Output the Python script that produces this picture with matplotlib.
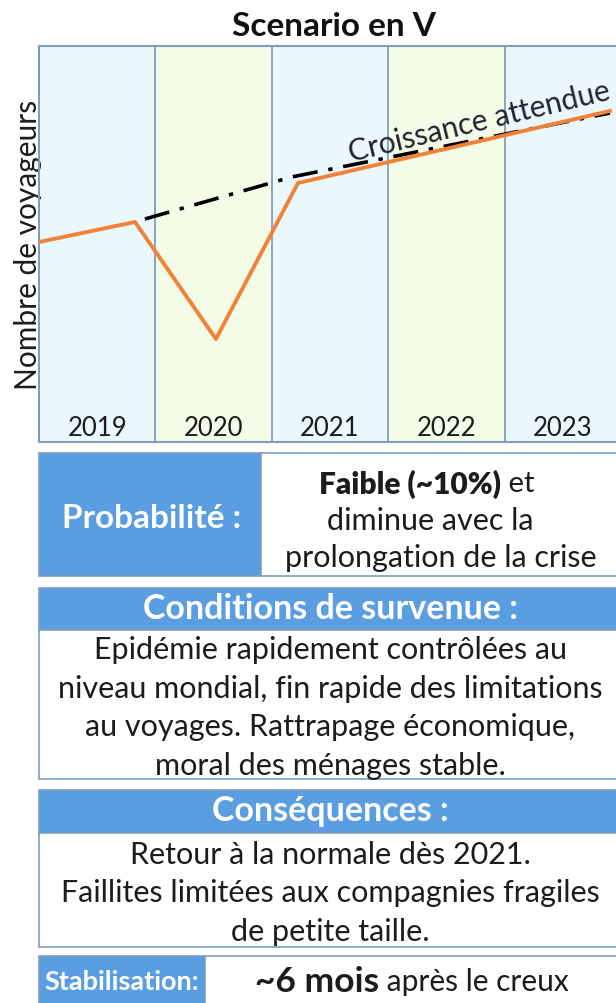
import matplotlib
matplotlib.use("Agg")
import matplotlib.pyplot as plt
from matplotlib.patches import Rectangle

plt.rcParams['font.family'] = ['Lato', 'DejaVu Sans']

# data
years = ['2019', '2020', '2021', '2022', '2023']
col_colors = ['#eaf8fd', '#f4fbe6', '#eaf8fd', '#f4fbe6', '#eaf8fd']
scenario_x = [0.0, 0.825, 1.52, 2.225, 4.905]
scenario_y = [200, 220, 103, 259, 331]
trend_x = [0.91, 2.17, 4.905]
trend_y = [223, 265, 329]

title = "Scenario en V"
ylabel = "Nombre de voyageurs"
trend_label = "Croissance attendue"
cond_lines = ["Epidémie rapidement contrôlées au",
              "niveau mondial, fin rapide des limitations",
              "au voyages. Rattrapage économique,",
              "moral des ménages stable."]
cons_lines = ["Retour à la normale dès 2021.",
              "Faillites limitées aux compagnies fragiles",
              "de petite taille."]

BLUE = '#5a9de0'
EDGE = '#7f9dbd'
TXT = '#1c1c1c'
W, H = 616, 1004

fig = plt.figure(figsize=(W / 100, H / 100), dpi=100)
fig.patch.set_facecolor('white')

# overlay in pixel coordinates for the boxes below the chart
ov = fig.add_axes([0, 0, 1, 1])
ov.set_xlim(0, W)
ov.set_ylim(H, 0)
ov.axis('off')

# chart
ax = fig.add_axes([39 / W, 1 - 443 / H, (W - 39) / W, 396 / H])
ax.set_xlim(0, (W - 39) / 116.4)
ax.set_ylim(0, 396)
for i, (yr, c) in enumerate(zip(years, col_colors)):
    ax.axvspan(i, i + 1, color=c, zorder=0)
    if i > 0:
        ax.axvline(i, color=EDGE, lw=1.3, zorder=1)
    ax.text(i + 0.5, 2, yr, ha='center', va='bottom', fontsize=18.5, color=TXT)
ax.plot(trend_x, trend_y, color='black', lw=2.6, dashes=(7, 3, 1.2, 3), zorder=2)
ax.plot(scenario_x, scenario_y, color='#f0823a', lw=2.8, zorder=3)
ax.text(3.8, 312, trend_label, rotation=13.5, rotation_mode='anchor',
        ha='center', va='baseline', fontsize=21.5, color='#222233')
ax.set_xticks([])
ax.set_yticks([])
for s in ['left', 'top', 'bottom']:
    ax.spines[s].set_color(EDGE)
    ax.spines[s].set_linewidth(1.5)
ax.spines['right'].set_visible(False)
ax.set_ylabel(ylabel, fontsize=21.5, labelpad=-2, color=TXT)

fig.text(334 / W, 1 - 26 / H, title, ha='center', va='center',
         fontsize=24, fontweight='bold', color='#111111')

renderer = fig.canvas.get_renderer()


def mixed_line(cx, y, parts, color=TXT):
    arts = []
    total = 0
    for s, w, fs in parts:
        t = ov.text(0, y, s, fontweight=w, fontsize=fs, va='center', ha='left', color=color)
        wpx = t.get_window_extent(renderer).width
        arts.append((t, wpx))
        total += wpx
    x = cx - total / 2
    for t, wpx in arts:
        t.set_x(x)
        x += wpx


def rect(x0, y0, x1, y1, fc, ec=EDGE, lw=1.2):
    ov.add_patch(Rectangle((x0, y0), x1 - x0, y1 - y0, facecolor=fc, edgecolor=ec, lw=lw))


# Probabilite box
rect(39, 454, 261, 577, BLUE)
rect(261, 454, 640, 577, 'white')
ov.text(152, 519, "Probabilité :", ha='center', va='center', fontsize=24,
        fontweight='bold', color='white')
mixed_line(427, 484, [("Faible (~10%)", 'heavy', 21.5), (" et", 'normal', 21)])
ov.text(430, 521, "diminue avec la", ha='center', va='center', fontsize=22, color=TXT)
ov.text(441, 558, "prolongation de la crise", ha='center', va='center', fontsize=22, color=TXT)

# Conditions box
rect(39, 589, 640, 631, BLUE)
rect(39, 631, 640, 780, 'white')
ov.text(330, 609, "Conditions de survenue :", ha='center', va='center', fontsize=24.5,
        fontweight='bold', color='white')
for k, line in enumerate(cond_lines):
    ov.text(330, 650 + k * 38.7, line, ha='center', va='center', fontsize=22, color=TXT)

# Consequences box
rect(39, 791, 640, 834, BLUE)
rect(39, 834, 640, 948, 'white')
ov.text(330, 811, "Conséquences :", ha='center', va='center', fontsize=24.5,
        fontweight='bold', color='white')
for k, line in enumerate(cons_lines):
    ov.text(330, 855 + k * 38.5, line, ha='center', va='center', fontsize=22, color=TXT)

# Stabilisation box
rect(39, 957, 205, 1010, BLUE)
rect(205, 957, 640, 1010, 'white')
ov.text(122, 982, "Stabilisation:", ha='center', va='center', fontsize=19.5,
        fontweight='bold', color='white')
mixed_line(412, 982, [("~6 mois", 'bold', 25.5), (" après le creux", 'normal', 21.5)])

fig.savefig("out.png", dpi=100)
